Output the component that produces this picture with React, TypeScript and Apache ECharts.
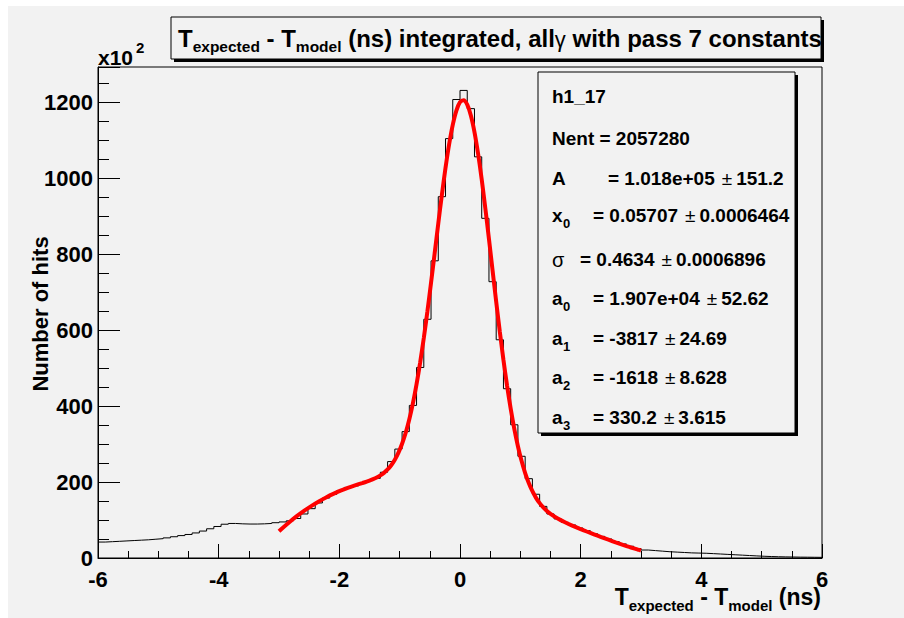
import { useEffect, useRef } from 'react';
import * as echarts from 'echarts';

const FONT = '"Liberation Sans", Arial, Helvetica, sans-serif';
const BG = '#f2f2f2';

// ---- axes ----
const X_MIN = -6;
const X_MAX = 6;
const X_STEP = 2;
const BIN_WIDTH = 0.12;
const Y_MIN = 0;
const Y_MAX = 1293.7;
const Y_STEP = 200;
const Y_MINOR_STEP = 50;

// ---- histogram contents (x10^2 hits), 100 bins of 0.12 ns from -6 to 6 ----
const counts = [
  42, 43, 44, 45, 46, 47, 48, 49.5, 51, 53,
  56, 59, 62, 66, 71, 77, 83, 89, 91, 90,
  89.5, 89.5, 90, 91, 93, 95, 98, 104, 116, 130,
  145, 158, 168, 178, 186, 190, 196, 204, 210, 226,
  254, 287, 333, 402, 502, 629, 783, 952, 1105, 1208,
  1232, 1184, 1057, 895, 728, 575, 446, 351, 268, 209,
  168, 136, 116, 103, 94, 87, 79, 72, 64, 57,
  50, 43, 37, 31, 25, 21, 19.5, 18, 16.5, 15.5,
  14.5, 13.5, 13, 12.5, 11.5, 10.5, 9.5, 8.5, 7.5, 6.5,
  5.5, 4.6, 3.9, 3.3, 2.9, 2.6, 2.3, 2.1, 1.9, 1.7,
];

// ---- fitted curve (x10^2) ----
const fitX = [
  -3, -2.94, -2.82, -2.7, -2.58, -2.46, -2.34, -2.22, -2.1, -1.98,
  -1.86, -1.74, -1.62, -1.5, -1.44, -1.38, -1.32, -1.26, -1.2, -1.14,
  -1.08, -1.02, -0.96, -0.9, -0.84, -0.78, -0.72, -0.66, -0.6, -0.54,
  -0.48, -0.42, -0.36, -0.3, -0.24, -0.18, -0.12, -0.06, 0, 0.06,
  0.12, 0.18, 0.24, 0.3, 0.36, 0.42, 0.48, 0.54, 0.6, 0.66,
  0.72, 0.78, 0.84, 0.9, 0.96, 1.02, 1.08, 1.14, 1.2, 1.26,
  1.32, 1.38, 1.44, 1.5, 1.62, 1.74, 1.86, 1.98, 2.1, 2.22,
  2.34, 2.46, 2.58, 2.7, 2.82, 2.94, 3,
];
const fitY = [
  70.4, 79.2, 95.6, 110.8, 124.8, 137.5, 149.1, 159.6, 168.9, 177.3,
  184.7, 191.3, 197.5, 204.0, 207.8, 212.2, 217.6, 224.4, 233.2, 244.5,
  259.1, 277.6, 301.1, 330.1, 365.8, 408.3, 458.2, 515.5, 579.7, 650.1,
  725.1, 802.8, 881.3, 957.2, 1028.0, 1090.2, 1141.3, 1178.9, 1201.0, 1206.4,
  1194.6, 1166.1, 1122.4, 1065.2, 997.1, 921.2, 840.3, 757.4, 675.2, 596.1,
  522.0, 454.2, 393.5, 340.3, 294.6, 256.0, 223.9, 197.5, 175.9, 158.5,
  144.5, 133.2, 123.9, 116.2, 103.9, 94.1, 85.5, 77.5, 69.8, 62.4,
  55.1, 48.1, 41.2, 34.7, 28.4, 22.5, 19.7,
];

// ---- texts ----
const titleParts = ['T', 'expected', ' - T', 'model', ' (ns) integrated, all', 'γ', ' with pass 7 constants'];
const titleStyles = ['m', 's', 'm', 's', 'm', 'g', 'm'];
const xTitleParts = ['T', 'expected', ' - T', 'model', ' (ns)'];
const xTitleStyles = ['m', 's', 'm', 's', 'm'];
const yTitle = 'Number of hits';
const yScaleMain = 'x10';
const yScaleExp = '2';
const statName = 'h1_17';
const statEntries = 'Nent = 2057280';
const paramNames = ['A', 'x', 'σ', 'a', 'a', 'a', 'a'];
const paramSubs = ['', '0', '', '0', '1', '2', '3'];
const paramValues = ['1.018e+05', '0.05707', '0.4634', '1.907e+04', '-3817', '-1618', '330.2'];
const paramErrors = ['151.2', '0.0006464', '0.0006896', '52.62', '24.69', '8.628', '3.615'];

function richString(parts: string[], styles: string[]) {
  return parts.map((p, i) => `{${styles[i]}|${p}}`).join('');
}

export default function App() {
  const ref = useRef<HTMLDivElement>(null);

  useEffect(() => {
    const chart = echarts.init(ref.current!, null, { renderer: 'svg' });

    const histData: number[][] = [];
    for (let i = 0; i <= counts.length; i++) {
      histData.push([X_MIN + i * BIN_WIDTH, counts[Math.min(i, counts.length - 1)]]);
    }
    const fitData = fitX.map((x, i) => [x, fitY[i]]);

    const mid = (baseline: number, fs: number) => baseline - 0.3465 * fs;
    const txt = (x: number, y: number, text: string, fs: number, extra: any = {}) => ({
      type: 'text',
      x,
      y,
      z: 20,
      rotation: extra.rotation || 0,
      style: {
        text,
        fontSize: fs,
        fontWeight: extra.weight || 'bold',
        fontFamily: FONT,
        fill: '#000',
        align: extra.align || 'left',
        verticalAlign: 'middle',
      },
    });

    const elements: any[] = [];
    // canvas background
    elements.push({ type: 'rect', z: -10, shape: { x: 8, y: 6, width: 896, height: 612 }, style: { fill: BG } });

    // title box
    elements.push({ type: 'rect', z: 10, shape: { x: 174, y: 20, width: 650, height: 42 }, style: { fill: '#000' } });
    elements.push({ type: 'rect', z: 11, shape: { x: 171, y: 17, width: 650, height: 42 }, style: { fill: BG, stroke: '#000', lineWidth: 1 } });
    elements.push({
      type: 'text',
      x: 178,
      y: 54.4,
      z: 20,
      style: {
        text: richString(titleParts, titleStyles),
        align: 'left',
        verticalAlign: 'bottom',
        fill: '#000',
        rich: {
          m: { fontSize: 24, fontWeight: 'bold', fontFamily: FONT, fill: '#000', verticalAlign: 'bottom', padding: [0, 0, 4, 0] },
          s: { fontSize: 15.5, fontWeight: 'bold', fontFamily: FONT, fill: '#000', verticalAlign: 'bottom' },
          g: { fontSize: 22, fontWeight: 'normal', fontFamily: FONT, fill: '#000', verticalAlign: 'bottom', padding: [0, 0, 4, 0] },
        },
      },
    });

    // x axis title
    elements.push({
      type: 'text',
      x: 821,
      y: 612.5,
      z: 20,
      style: {
        text: richString(xTitleParts, xTitleStyles),
        align: 'right',
        verticalAlign: 'bottom',
        fill: '#000',
        rich: {
          m: { fontSize: 23, fontWeight: 'bold', fontFamily: FONT, fill: '#000', verticalAlign: 'bottom', padding: [0, 0, 4, 0] },
          s: { fontSize: 15, fontWeight: 'bold', fontFamily: FONT, fill: '#000', verticalAlign: 'bottom' },
        },
      },
    });

    // y axis title + scale factor
    elements.push(txt(40, 314, yTitle, 22, { align: 'center', rotation: Math.PI / 2 }));
    elements.push(txt(98, mid(64.3, 21), yScaleMain, 21));
    elements.push(txt(136, mid(52.3, 15), yScaleExp, 15));

    // stats box
    elements.push({ type: 'rect', z: 10, shape: { x: 541, y: 75, width: 257, height: 361 }, style: { fill: '#000' } });
    elements.push({ type: 'rect', z: 11, shape: { x: 538, y: 72, width: 257, height: 361 }, style: { fill: BG, stroke: '#000', lineWidth: 1 } });
    const baselines = [103.3, 145.3, 185, 222.5, 266.5, 304.7, 344.7, 384, 424];
    const eqX = [608, 593, 580, 593, 593, 593, 593];
    elements.push(txt(552, mid(baselines[0], 19), statName, 19));
    elements.push(txt(552, mid(baselines[1], 19), statEntries, 19));
    paramNames.forEach((name, j) => {
      const b = baselines[j + 2];
      const isGreek = name === 'σ';
      elements.push(txt(552, mid(b, isGreek ? 20 : 19), name, isGreek ? 20 : 19, { weight: isGreek ? 'normal' : 'bold' }));
      if (paramSubs[j]) elements.push(txt(563, mid(b + 6, 13), paramSubs[j], 13));
      elements.push({
        type: 'text',
        x: eqX[j],
        y: mid(b, 19),
        z: 20,
        style: {
          text: `{v|= ${paramValues[j]}}{p|±}{e|${paramErrors[j]}}`,
          align: 'left',
          verticalAlign: 'middle',
          fill: '#000',
          rich: {
            v: { fontSize: 19, fontWeight: 'bold', fontFamily: FONT, fill: '#000' },
            p: { fontSize: 19, fontWeight: 'normal', fontFamily: FONT, fill: '#000', padding: [0, 0, 0, 7] },
            e: { fontSize: 19, fontWeight: 'bold', fontFamily: FONT, fill: '#000', padding: [0, 0, 0, 4] },
          },
        },
      });
    });

    const axisFont = { color: '#000', fontSize: 22, fontWeight: 'bold' as const, fontFamily: FONT };

    chart.setOption({
      animation: false,
      backgroundColor: '#ffffff',
      grid: { left: 98, right: 82, top: 67, bottom: 60, show: true, borderColor: '#000', borderWidth: 1, backgroundColor: 'transparent' },
      xAxis: {
        type: 'value',
        min: X_MIN,
        max: X_MAX,
        interval: X_STEP,
        axisLine: { onZero: false, lineStyle: { color: '#000', width: 1 } },
        axisTick: { inside: true, length: 14, lineStyle: { color: '#000', width: 1 } },
        minorTick: { show: true, splitNumber: 4, length: 7, lineStyle: { color: '#000', width: 1 } },
        splitLine: { show: false },
        minorSplitLine: { show: false },
        axisLabel: { ...axisFont, margin: 10, showMinLabel: true, showMaxLabel: true },
      },
      yAxis: [
        {
          type: 'value',
          min: Y_MIN,
          max: Y_MAX,
          interval: Y_STEP,
          position: 'left',
          axisLine: { show: true, onZero: false, lineStyle: { color: '#000', width: 1 } },
          axisTick: { inside: true, length: 22, lineStyle: { color: '#000', width: 1 } },
          splitLine: { show: false },
          axisLabel: {
            ...axisFont,
            margin: 5,
            formatter: (v: number) => (Math.abs(v % Y_STEP) < 1e-6 ? String(v) : ''),
          },
        },
        {
          type: 'value',
          min: Y_MIN,
          max: Y_MAX,
          interval: Y_MINOR_STEP,
          position: 'left',
          axisLine: { show: false, onZero: false },
          axisTick: { inside: true, length: 11, lineStyle: { color: '#000', width: 1 } },
          splitLine: { show: false },
          axisLabel: { show: false },
        },
      ],
      series: [
        {
          type: 'line',
          data: histData,
          step: 'end',
          symbol: 'none',
          yAxisIndex: 0,
          lineStyle: { color: '#000', width: 1 },
          z: 3,
          silent: true,
        },
        {
          type: 'line',
          data: fitData,
          smooth: 0.3,
          symbol: 'none',
          yAxisIndex: 0,
          lineStyle: { color: '#ff0000', width: 4 },
          z: 4,
          silent: true,
        },
      ],
      graphic: { elements },
    });

    return () => chart.dispose();
  }, []);

  return (
    <div style={{ position: 'absolute', left: 0, top: 0, width: 904, height: 618, background: '#fff' }}>
      <div ref={ref} style={{ width: 904, height: 618 }} />
    </div>
  );
}
